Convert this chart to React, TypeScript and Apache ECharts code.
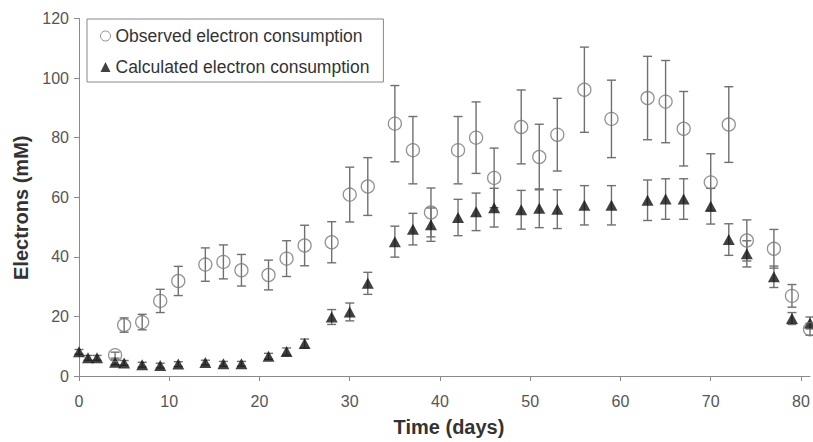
import React, { useEffect, useRef } from "react";
import * as echarts from "echarts";

const obsDays = [4, 5, 7, 9, 11, 14, 16, 18, 21, 23, 25, 28, 30, 32, 35, 37, 39, 42, 44, 46, 49, 51, 53, 56, 59, 63, 65, 67, 70, 72, 74, 77, 79, 81];
const obsValues = [7.0, 17.1, 18.1, 25.2, 31.9, 37.4, 38.3, 35.5, 33.9, 39.4, 43.8, 44.9, 60.9, 63.6, 84.7, 75.8, 54.9, 75.8, 80.0, 66.5, 83.6, 73.5, 81.0, 96.1, 86.3, 93.3, 92.1, 83.0, 65.0, 84.4, 45.5, 42.7, 26.9, 15.7];
const obsErrors = [1.0, 2.4, 2.6, 3.9, 4.9, 5.6, 5.7, 5.3, 5.0, 6.0, 6.8, 6.9, 9.2, 9.7, 12.8, 11.3, 8.2, 11.3, 12.0, 10.0, 12.4, 11.0, 12.2, 14.3, 13.0, 14.0, 13.8, 12.5, 9.6, 12.7, 6.9, 6.5, 3.8, 2.0];

const calcDays = [0, 1, 2, 4, 5, 7, 9, 11, 14, 16, 18, 21, 23, 25, 28, 30, 32, 35, 37, 39, 42, 44, 46, 49, 51, 53, 56, 59, 63, 65, 67, 70, 72, 74, 77, 79, 81];
const calcValues = [8.1, 6.1, 6.1, 4.6, 4.4, 3.8, 3.5, 4.0, 4.5, 4.1, 4.1, 6.6, 8.2, 10.9, 19.8, 21.5, 31.1, 45.1, 49.3, 50.8, 53.2, 55.1, 56.5, 55.8, 56.3, 56.0, 57.3, 57.3, 59.0, 59.4, 59.4, 57.0, 45.8, 41.0, 33.3, 19.3, 17.8];
const calcErrors = [0.8, 0.8, 0.8, 0.8, 0.8, 0.8, 0.8, 0.8, 0.8, 0.8, 0.8, 1.0, 1.2, 1.5, 2.5, 3.0, 3.7, 5.2, 5.3, 5.6, 6.1, 6.3, 6.5, 6.5, 6.5, 6.5, 6.6, 6.6, 6.8, 6.8, 6.8, 6.0, 5.3, 4.4, 3.6, 2.0, 2.0];

const xTicks = [0, 10, 20, 30, 40, 50, 60, 70, 80];

const obsName = "Observed electron consumption";
const calcName = "Calculated electron consumption";

const FONT = "'Liberation Sans', Arial, Helvetica, sans-serif";
const BAR_COLOR = "#707070";

function errorBarRender(params: any, api: any) {
  const x = api.value(0);
  const lo = api.coord([x, api.value(1)]);
  const hi = api.coord([x, api.value(2)]);
  const w = 4.5;
  const style = { stroke: BAR_COLOR, lineWidth: 1.4 };
  return {
    type: "group",
    children: [
      { type: "line", shape: { x1: hi[0], y1: hi[1], x2: lo[0], y2: lo[1] }, style },
      { type: "line", shape: { x1: hi[0] - w, y1: hi[1], x2: hi[0] + w, y2: hi[1] }, style },
      { type: "line", shape: { x1: lo[0] - w, y1: lo[1], x2: lo[0] + w, y2: lo[1] }, style },
    ],
  };
}

export default function App() {
  const ref = useRef<HTMLDivElement>(null);
  useEffect(() => {
    if (!ref.current) return;
    const chart = echarts.init(ref.current, null, { renderer: "svg" });
    const obsBars = obsDays.map((d, i) => [d, obsValues[i] - obsErrors[i], obsValues[i] + obsErrors[i]]);
    const calcBars = calcDays.map((d, i) => [d, calcValues[i] - calcErrors[i], calcValues[i] + calcErrors[i]]);
    chart.setOption({
      animation: false,
      backgroundColor: "#ffffff",
      textStyle: { fontFamily: FONT },
      grid: { left: 79, right: 3, top: 18.5, bottom: 61.5 },
      legend: {
        orient: "vertical",
        left: 87,
        top: 19,
        padding: [8, 14, 6, 13],
        itemGap: 13,
        itemWidth: 10,
        itemHeight: 10,
        borderColor: "#888888",
        borderWidth: 1,
        backgroundColor: "#ffffff",
        textStyle: { fontSize: 17.5, color: "#333333", fontFamily: FONT },
        data: [
          { name: obsName, icon: "circle", itemStyle: { color: "#ffffff", borderColor: "#777777", borderWidth: 1 } },
          { name: calcName, icon: "triangle", itemStyle: { color: "#111111" } },
        ],
      },
      xAxis: {
        type: "value",
        min: 0,
        max: 81,
        interval: 10,
        name: "Time (days)",
        nameLocation: "middle",
        nameGap: 41,
        nameTextStyle: { fontSize: 20, fontWeight: "bold", color: "#333333", fontFamily: FONT, padding: [0, 0, 0, 9] },
        axisLine: { show: true, lineStyle: { color: "#8a8a8a", width: 1 } },
        axisTick: { show: true, length: 5, customValues: xTicks, lineStyle: { color: "#8a8a8a" } },
        axisLabel: { fontSize: 16, color: "#555555", margin: 17, customValues: xTicks, fontFamily: FONT },
        splitLine: { show: false },
      },
      yAxis: {
        type: "value",
        min: 0,
        max: 120,
        interval: 20,
        name: "Electrons (mM)",
        nameLocation: "middle",
        nameGap: 46,
        nameTextStyle: { fontSize: 20, fontWeight: "bold", color: "#333333", fontFamily: FONT, padding: [0, 21, 0, 0] },
        axisLine: { show: true, lineStyle: { color: "#8a8a8a", width: 1 } },
        axisTick: { show: true, length: 5, lineStyle: { color: "#8a8a8a" } },
        axisLabel: { fontSize: 16, color: "#555555", margin: 10, fontFamily: FONT },
        splitLine: { show: false },
      },
      series: [
        {
          type: "custom",
          renderItem: errorBarRender,
          encode: { x: 0, y: [1, 2] },
          data: calcBars,
          z: 1,
          silent: true,
        },
        {
          type: "custom",
          renderItem: errorBarRender,
          encode: { x: 0, y: [1, 2] },
          data: obsBars,
          z: 1,
          silent: true,
        },
        {
          name: calcName,
          type: "scatter",
          symbol: "triangle",
          symbolSize: [12, 11],
          itemStyle: { color: "#111111" },
          data: calcDays.map((d, i) => [d, calcValues[i]]),
          z: 3,
          clip: false,
        },
        {
          name: obsName,
          type: "scatter",
          symbol: "circle",
          symbolSize: 13,
          itemStyle: { color: "rgba(0,0,0,0)", borderColor: "#777777", borderWidth: 1.3 },
          data: obsDays.map((d, i) => [d, obsValues[i]]),
          z: 4,
          clip: false,
        },
      ],
    });
    return () => chart.dispose();
  }, []);
  return <div ref={ref} style={{ position: "absolute", left: 0, top: 0, width: 813, height: 442 }} />;
}
